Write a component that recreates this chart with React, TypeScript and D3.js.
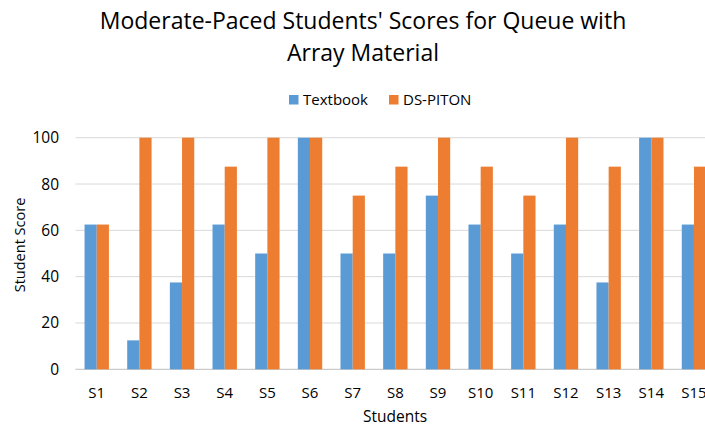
import React from "react";
import * as d3 from "d3";

const categories = ["S1","S2","S3","S4","S5","S6","S7","S8","S9","S10","S11","S12","S13","S14","S15"];
const textbook = [62.5,12.5,37.5,62.5,50,100,50,50,75,62.5,50,62.5,37.5,100,62.5];
const dsPiton = [62.5,100,100,87.5,100,100,75,87.5,100,87.5,75,100,87.5,100,87.5];
const yTicks = [0,20,40,60,80,100];
const seriesNames = ["Textbook","DS-PITON"];
const colors = ["#5B9BD5","#ED7D31"];

const W = 705, H = 428;
const left = 75.4, catW = 42.66;
const top = 137.7, bottom = 369.3;
const FONT = "'Open Sans', 'Liberation Sans', sans-serif";

export default function App() {
  const x = d3.scaleBand().domain(categories).range([left, left + catW * categories.length]).paddingInner(0).paddingOuter(0);
  const y = d3.scaleLinear().domain([0, 100]).range([bottom, top]);
  const barW = x.bandwidth() / 3.5;
  const series = [textbook, dsPiton];
  return (
    <svg width={W} height={H} style={{ position: "absolute", left: 0, top: 0, overflow: "hidden", background: "#fff" }} fontFamily={FONT}>
      <rect width={W} height={H} fill="#fff" />
      <text x={363} y={29} textAnchor="middle" fontSize={23} fill="#000">Moderate-Paced Students' Scores for Queue with</text>
      <text x={363} y={61} textAnchor="middle" fontSize={23} fill="#000">Array Material</text>
      {seriesNames.map((n, i) => {
        const lx = i === 0 ? 289 : 389;
        return (
          <g key={n}>
            <rect x={lx} y={95} width={9.5} height={9.5} fill={colors[i]} />
            <text x={lx + 14} y={105} fontSize={15} fill="#000">{n}</text>
          </g>
        );
      })}
      {yTicks.map(t => (
        <g key={t}>
          <line x1={left} x2={W + 30} y1={y(t)} y2={y(t)} stroke={t === 0 ? "#bfbfbf" : "#d9d9d9"} strokeWidth={1} />
          <text x={59} y={y(t) + 5.5} textAnchor="end" fontSize={15.5} fill="#000">{t}</text>
        </g>
      ))}
      {categories.map((c, ci) => (
        <g key={c}>
          {series.map((s, si) => {
            const bx = (x(c) as number) + x.bandwidth() / 2 - barW + si * barW;
            return <rect key={si} x={bx} y={y(s[ci])} width={barW} height={bottom - y(s[ci])} fill={colors[si]} />;
          })}
          <text x={(x(c) as number) + x.bandwidth() / 2} y={398} textAnchor="middle" fontSize={15} fill="#000">{c}</text>
        </g>
      ))}
      <text x={395} y={422} textAnchor="middle" fontSize={15.5} fill="#000">Students</text>
      <text transform={`translate(25,245) rotate(-90)`} textAnchor="middle" fontSize={14.5} fill="#000">Student Score</text>
    </svg>
  );
}
